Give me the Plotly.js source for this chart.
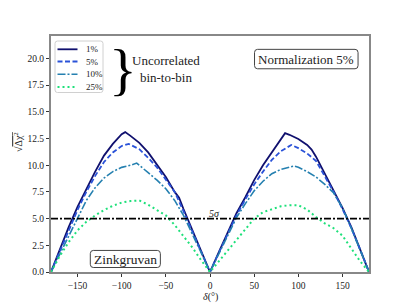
<!DOCTYPE html>
<html>
<head>
<meta charset="utf-8">
<script src="https://cdn.plot.ly/plotly-3.0.1.min.js"></script>
<style>html,body{margin:0;padding:0;background:#fff;}#chart{width:409px;height:307px;}</style>
</head>
<body>
<div id="chart"></div>
<script>
// Data
var seriesNames = ["1%", "5%", "10%", "25%"];

var delta1 = [-180,-170,-160,-150,-140,-130,-120,-110,-100,-96,-90,-80,-70,-60,-50,-40,-35,-30,-20,-10,0,10,20,30,40,50,60,70,80,85,90,100,110,115,120,130,140,150,160,170,180];
var chi1 = [0,2.1,4.2,6.1,7.8,9.4,10.9,12.0,12.9,13.1,12.75,12.1,11.2,10.1,8.9,7.5,6.95,5.9,3.9,1.95,0,1.85,3.7,5.5,7.0,8.6,10.0,11.2,12.4,13.0,12.85,12.45,11.9,11.47,10.8,9.2,7.6,6.0,4.2,2.1,0];

var delta2 = [-180,-170,-160,-150,-140,-130,-120,-110,-100,-92,-80,-70,-60,-50,-40,-30,-20,-10,0,10,20,30,40,50,60,70,80,92,100,110,120,130,140,150,160,170,180];
var chi2 = [0,1.95,3.9,5.8,7.5,9.0,10.3,11.2,11.8,12.0,11.5,10.7,9.8,8.7,7.5,5.7,3.8,1.9,0,1.8,3.6,5.3,6.8,8.2,9.4,10.5,11.3,11.9,11.6,11.1,10.4,9.0,7.5,5.9,4.1,2.1,0];

var delta3 = [-180,-170,-160,-150,-140,-130,-120,-110,-100,-90,-83,-70,-60,-50,-40,-30,-20,-10,0,10,20,30,40,50,60,70,80,95,100,110,120,130,140,150,160,170,180];
var chi3 = [0,1.7,3.4,5.1,6.7,7.9,8.8,9.4,9.8,10.0,10.2,9.3,8.6,7.8,6.7,5.3,3.6,1.8,0,1.7,3.4,5.1,6.4,7.6,8.5,9.2,9.6,9.93,9.8,9.4,8.9,8.2,7.4,6.0,4.1,2.0,0];

var delta4 = [-180,-170,-160,-150,-140,-130,-120,-110,-100,-90,-80,-70,-60,-50,-40,-30,-20,-10,0,10,20,30,40,50,60,70,80,90,100,110,120,130,140,150,160,170,180];
var chi4 = [0,1.5,2.8,3.9,4.7,5.3,5.8,6.2,6.5,6.65,6.7,6.3,5.8,5.3,4.4,3.4,2.3,1.1,0,1.0,2.0,3.1,4.1,5.0,5.6,5.9,6.15,6.25,6.25,5.85,5.15,4.55,4.1,3.4,2.2,1.0,0];

var sigmaLevel = 5;
var xTicks = [-150,-100,-50,0,50,100,150];
var yTicks = [0,2.5,5,7.5,10,12.5,15,17.5,20];

var FONT = "Liberation Serif, DejaVu Serif, serif";
var colors = ["#10106e", "#2a52d8", "#2580b0", "#1ee07a"];
var dashes = ["solid", "5px,2.5px", "8px,2px,2px,2px", "2px,3px"];
var widths = [1.8, 1.8, 1.6, 2];

// plot area geometry (pixels) used only for placing decorations
var PL = 51, PR = 369, PT = 36, PB = 272;
function px2paperX(p) { return (p - PL) / (PR - PL); }
function px2paperY(p) { return (PB - p) / (PB - PT); }
function roundRect(x0, x1, y0, y1, rx, ry) {
  return "M" + (x0 + rx) + "," + y0 + " L" + (x1 - rx) + "," + y0 + " Q" + x1 + "," + y0 + " " + x1 + "," + (y0 + ry) +
    " L" + x1 + "," + (y1 - ry) + " Q" + x1 + "," + y1 + " " + (x1 - rx) + "," + y1 +
    " L" + (x0 + rx) + "," + y1 + " Q" + x0 + "," + y1 + " " + x0 + "," + (y1 - ry) +
    " L" + x0 + "," + (y0 + ry) + " Q" + x0 + "," + y0 + " " + (x0 + rx) + "," + y0 + " Z";
}

var xs = [delta1, delta2, delta3, delta4];
var ys = [chi1, chi2, chi3, chi4];
var traces = [];
for (var i = 0; i < 4; i++) {
  traces.push({x: xs[i], y: ys[i], name: seriesNames[i], mode: "lines", showlegend: false,
    line: {color: colors[i], width: widths[i], dash: dashes[i]}});
}
traces.push({x: [-180, 180], y: [sigmaLevel, sigmaLevel], mode: "lines", showlegend: false, hoverinfo: "skip",
  line: {color: "#000", width: 1.6, dash: "7px,2px,2px,2px"}});

var shapes = [];
var annotations = [];

// legend box (manual, to match the compact matplotlib legend)
var lx0 = px2paperX(55), lx1 = px2paperX(103), ly0 = px2paperY(92.5), ly1 = px2paperY(41);
shapes.push({type: "path", xref: "paper", yref: "paper", layer: "above",
  path: roundRect(lx0, lx1, ly0, ly1, 2.5 / 318, 2.5 / 236),
  line: {color: "#d0d0d0", width: 1}, fillcolor: "rgba(255,255,255,0.9)"});
var rowsPx = [49.3, 61.5, 74.2, 87];
for (var k = 0; k < 4; k++) {
  var yy = px2paperY(rowsPx[k]);
  shapes.push({type: "line", xref: "paper", yref: "paper", layer: "above",
    x0: px2paperX(57.5), x1: px2paperX(77.5), y0: yy, y1: yy,
    line: {color: colors[k], width: widths[k], dash: dashes[k]}});
  annotations.push({xref: "paper", yref: "paper", x: px2paperX(84), y: yy, xanchor: "left", yanchor: "middle",
    text: seriesNames[k], showarrow: false, font: {family: FONT, size: 9, color: "#222"}});
}

// rounded boxes for the two labels
shapes.push({type: "path", xref: "x", yref: "y", layer: "above",
  path: roundRect(50.4, 167.6, 19.03, 20.85, 3.4, 0.3), line: {color: "#444", width: 1}, fillcolor: "#fff"});
shapes.push({type: "path", xref: "x", yref: "y", layer: "above",
  path: roundRect(-135.5, -56.2, 0.42, 2.02, 3.4, 0.3), line: {color: "#444", width: 1}, fillcolor: "#fff"});

annotations = annotations.concat([
  {xref: "x", yref: "y", x: -98.5, y: 19.0, text: "}", showarrow: false, borderpad: 0,
   font: {family: FONT, size: 58, color: "#000"}},
  {xref: "x", yref: "y", x: -49.5, y: 19.05, text: "Uncorrelated<br>bin-to-bin", showarrow: false, borderpad: 0,
   font: {family: FONT, size: 13, color: "#222"}},
  {xref: "x", yref: "y", x: 109, y: 19.94, text: "Normalization 5%", showarrow: false,
   font: {family: FONT, size: 13, color: "#222"}},
  {xref: "x", yref: "y", x: -95.8, y: 1.2, text: "Zinkgruvan", showarrow: false,
   font: {family: FONT, size: 13.5, color: "#222"}},
  {xref: "x", yref: "y", x: 5.5, y: 5.5, text: "<i>5σ</i>", showarrow: false,
   font: {family: FONT, size: 10, color: "#222"}},
  {xref: "paper", yref: "paper", x: 0.5, y: px2paperY(297), yanchor: "middle", text: "<i>δ</i>(°)", showarrow: false,
   font: {family: FONT, size: 10, color: "#222"}},
  {xref: "paper", yref: "paper", x: px2paperX(10), y: px2paperY(142), text: "√<span style='text-decoration:overline'>Δχ<sup>2</sup></span>", showarrow: false, textangle: -90,
   font: {family: FONT, size: 10, color: "#222"}}
]);

var layout = {
  width: 409, height: 307,
  margin: {l: PL, r: 409 - PR, t: PT, b: 307 - PB, pad: 0},
  paper_bgcolor: "#fff", plot_bgcolor: "#fff",
  font: {family: FONT, size: 9, color: "#222"},
  showlegend: false,
  xaxis: {range: [-180, 180], tickvals: xTicks, ticks: "outside", ticklen: 3.5, tickwidth: 1, tickcolor: "#333",
    showline: true, mirror: true, linecolor: "#888", linewidth: 1.6, showgrid: false, zeroline: false,
    tickfont: {family: FONT, size: 9.5, color: "#222"}},
  yaxis: {range: [0, 22.1], tickvals: yTicks, tickformat: ".1f", ticks: "outside", ticklen: 3.5, tickwidth: 1, tickcolor: "#333",
    showline: true, mirror: true, linecolor: "#888", linewidth: 1.6, showgrid: false, zeroline: false,
    tickfont: {family: FONT, size: 9.5, color: "#222"}},
  shapes: shapes,
  annotations: annotations
};

Plotly.newPlot("chart", traces, layout, {displayModeBar: false, staticPlot: true});
</script>
</body>
</html>
